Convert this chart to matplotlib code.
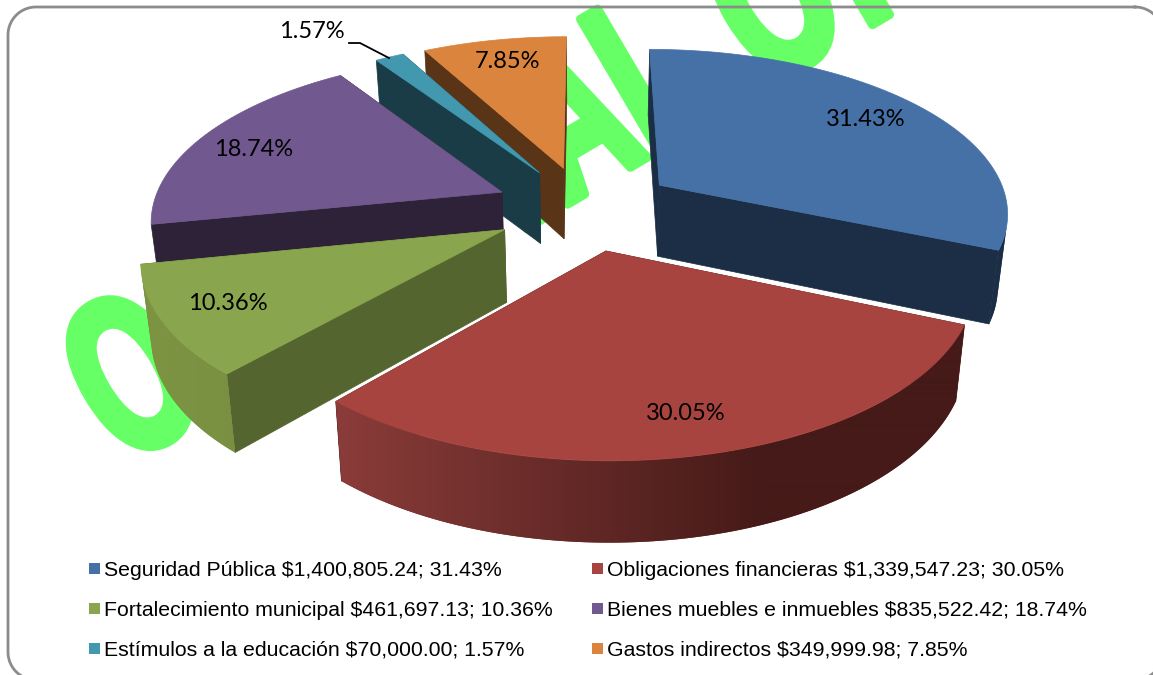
import numpy as np
import matplotlib
matplotlib.use("Agg")
import matplotlib.pyplot as plt
import matplotlib.patheffects as pe
from matplotlib.colors import LinearSegmentedColormap, to_rgb
from matplotlib.patches import Polygon
from matplotlib.transforms import Affine2D

categories = ["Seguridad Pública", "Obligaciones financieras", "Fortalecimiento municipal",
              "Bienes muebles e inmuebles", "Estímulos a la educación", "Gastos indirectos"]
amounts = [1400805.24, 1339547.23, 461697.13, 835522.42, 70000.00, 349999.98]
amount_labels = ["$1,400,805.24", "$1,339,547.23", "$461,697.13", "$835,522.42", "$70,000.00", "$349,999.98"]
percent_labels = ["31.43%", "30.05%", "10.36%", "18.74%", "1.57%", "7.85%"]

top_colors = ["#4571A7", "#A8443F", "#89A54E", "#71588F", "#4198AF", "#DB843D"]
wall_colors = ["#1B2E45", "#451A18", "#54652F", "#2D2238", "#1A3C46", "#5A3417"]
# outer rim colours, left to right on screen
rim_colors = [("#1B2E45", "#1B2E45"), ("#8A3C39", "#451A18"), ("#7D9443", "#6D8440"),
              ("#2D2238", "#2D2238"), ("#1A3C46", "#1A3C46"), ("#5A3417", "#5A3417")]
label_xy = [(866, 120), (686, 413), (228, 304), (254, 150), (312, 32), (507, 61)]
draw_order = [5, 4, 3, 2, 0, 1]

# watermark letters and where they sit along the slanted baseline
wm_letters = list("OFICIALOR")
wm_offsets = [0, 150, 240, 330, 425, 509, 599, 744, 855]

# --- projection of the tilted pie ---
CX, CY = 585, 208
SCALE_X, SCALE_Y = 350, 163
PERSP = 0.153
EXPLODE = 0.26
DEPTH = 72
BOTTOM_SHRINK = 0.977
WM_ANGLE = 30.5
GRAD_SPAN = 430


class SqueezeGlyph(pe.AbstractPathEffect):
    """Narrows a glyph around its own centre and fattens it with a stroke."""

    def __init__(self, factor, stroke):
        super().__init__()
        self.factor = factor
        self.stroke = stroke

    def draw_path(self, renderer, gc, tpath, affine, rgbFace=None):
        ext = tpath.get_extents()
        mid = (ext.x0 + ext.x1) / 2
        squeeze = Affine2D().translate(-mid, 0).scale(self.factor, 1).translate(mid, 0)
        gc0 = renderer.new_gc()
        gc0.copy_properties(gc)
        gc0.set_linewidth(self.stroke)
        gc0.set_foreground(rgbFace)
        renderer.draw_path(gc0, tpath, squeeze + affine, rgbFace)
        gc0.restore()


def project(x, y, low=False):
    w = 1 + PERSP * y
    sx = CX + SCALE_X * x / w
    sy = CY - SCALE_Y * y / w
    if low:
        sx = CX + (sx - CX) * BOTTOM_SHRINK
        sy = sy + DEPTH / w ** 0.6
    return sx, sy


def rounded_frame(x0, y0, x1, y1, r):
    """Outline of a rectangle with true circular corners."""
    corners = [(x1 - r, y0 + r, -90), (x1 - r, y1 - r, 0), (x0 + r, y1 - r, 90), (x0 + r, y0 + r, 180)]
    xs, ys = [], []
    for cx, cy, start in corners:
        a = np.radians(np.linspace(start, start + 90, 30))
        xs.extend(cx + r * np.cos(a))
        ys.extend(cy + r * np.sin(a))
    return xs + xs[:1], ys + ys[:1]


fig = plt.figure(figsize=(11.53, 6.75), dpi=100)
ax = fig.add_axes([0, 0, 1, 1])
ax.set_xlim(0, 1153)
ax.set_ylim(675, 0)
ax.axis("off")

# watermark sits behind everything, one letter at a time to get the tight spacing
wm_dir = np.array([np.cos(np.radians(WM_ANGLE)), -np.sin(np.radians(WM_ANGLE))])
for letter, s in zip(wm_letters, wm_offsets):
    bx, by = np.array([169, 439]) + wm_dir * s
    ax.text(bx, by, letter, fontsize=160, fontweight="bold", color="#66FF66",
            family="Liberation Sans", rotation=WM_ANGLE,
            rotation_mode="anchor", ha="center", va="baseline", zorder=1,
            clip_on=True, path_effects=[SqueezeGlyph(0.62, 6.5)])

frame_x, frame_y = rounded_frame(8, 7, 1163, 680, 28)
ax.plot(frame_x, frame_y, color="#8C8C8C", lw=2, zorder=2)

fractions = np.array(amounts) / sum(amounts)
edges = np.concatenate([[0], np.cumsum(fractions)]) * 2 * np.pi

z = 3
for i in draw_order:
    a0, a1 = edges[i], edges[i + 1]
    mid = (a0 + a1) / 2
    ox, oy = EXPLODE * np.sin(mid), EXPLODE * np.cos(mid)
    t = np.linspace(a0, a1, 120)
    wx, wy = ox + np.sin(t), oy + np.cos(t)
    top = np.array([project(a, b) for a, b in zip(wx, wy)])
    low = np.array([project(a, b, True) for a, b in zip(wx, wy)])
    apex = project(ox, oy)
    apex_low = project(ox, oy, True)

    # radial walls
    for k in (0, -1):
        ax.add_patch(Polygon([apex, top[k], low[k], apex_low], fc=wall_colors[i],
                             ec=wall_colors[i], lw=0.5, zorder=z))
    z += 1

    # outer rim: only the part that faces the viewer, else the outline folds over itself
    tang = np.gradient(top, axis=0)
    drop = low - top
    front = tang[:, 0] * drop[:, 1] - tang[:, 1] * drop[:, 0] < 0
    if front.sum() > 1:
        rim_top, rim_low = top[front], low[front]
        outline = np.vstack([rim_top, rim_low[::-1]])
        c0, c1 = np.array(to_rgb(rim_colors[i][0])), np.array(to_rgb(rim_colors[i][1]))
        ax.add_patch(Polygon(outline, fc=(c0 + c1) / 2, ec="none", zorder=z))
        z += 1
        xmin = outline[:, 0].min()
        xs = np.arange(xmin, 1153)
        cmap = LinearSegmentedColormap.from_list("rim", rim_colors[i])
        shade = np.clip((xs - xmin) / GRAD_SPAN, 0, 1)[None, :]
        grad = ax.imshow(shade, cmap=cmap, vmin=0, vmax=1, aspect="auto", zorder=z,
                         extent=(xmin, 1153, 675, 0), interpolation="bilinear")
        grad.set_clip_path(Polygon(outline, transform=ax.transData))
        z += 1

    ax.add_patch(Polygon(np.vstack([apex, top]), fc=top_colors[i], ec=top_colors[i],
                         lw=0.5, zorder=z))
    z += 1

ax.set_xlim(0, 1153)
ax.set_ylim(675, 0)

# data labels
for (lx, ly), txt in zip(label_xy, percent_labels):
    ax.text(lx, ly, txt, fontsize=17, family="Lato", ha="center", va="center",
            color="black", zorder=500)
ax.plot([349, 360, 389], [43, 43, 58], color="black", lw=1.3, zorder=500)

# legend
legend_cols = [89, 592]
legend_rows = [570, 610, 650]
for i, (name, money, pct) in enumerate(zip(categories, amount_labels, percent_labels)):
    lx = legend_cols[i % 2]
    ly = legend_rows[i // 2]
    ax.add_patch(Polygon([(lx, ly - 7), (lx + 11, ly - 7), (lx + 11, ly + 4), (lx, ly + 4)],
                         fc=top_colors[i], ec="none", zorder=500))
    ax.text(lx + 15, ly, f"{name} {money}; {pct}", fontsize=15.3, family="Liberation Sans",
            ha="left", va="center", color="black", zorder=500)

fig.savefig("out.png", dpi=100)
